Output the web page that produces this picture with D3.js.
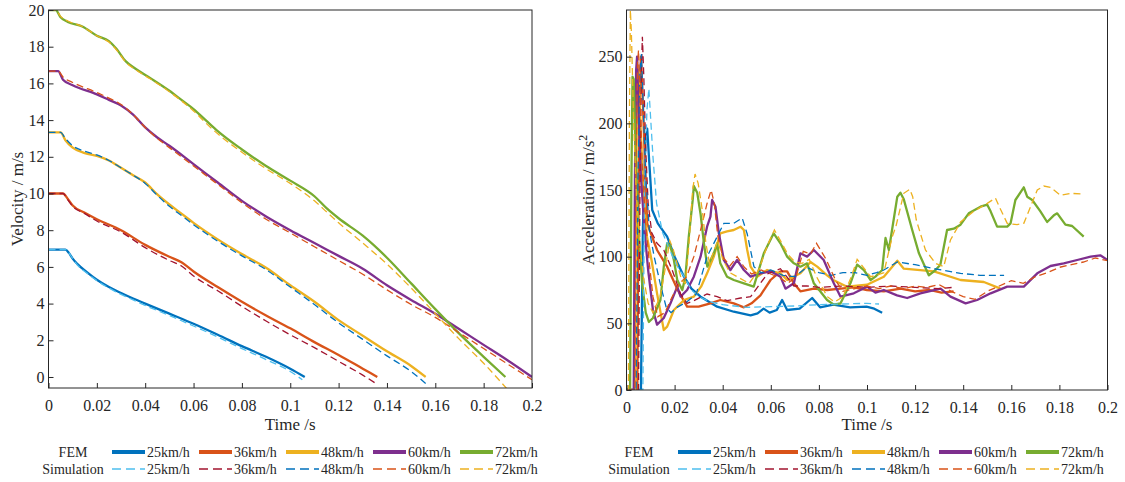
<!DOCTYPE html>
<html>
<head>
<meta charset="utf-8">
<script src="https://cdn.jsdelivr.net/npm/d3@7"></script>
<style>
    body { margin: 0; background: #fff; }
    text { font-family: "Liberation Serif", "Times New Roman", serif; fill: #262626; }
</style>
</head>
<body>
<svg id="fig" width="1125" height="482"></svg>
<script>
// Legend labels and tick values
const speeds = ["25km/h", "36km/h", "48km/h", "60km/h", "72km/h"];
const timeTicks = [0, 0.02, 0.04, 0.06, 0.08, 0.1, 0.12, 0.14, 0.16, 0.18, 0.2];
const velTicks = [0, 2, 4, 6, 8, 10, 12, 14, 16, 18, 20];
const accTicks = [0, 50, 100, 150, 200, 250];

// Velocity [t (s), v (m/s)] - FEM (solid) and Simulation (dashed)
const velFEM25 = [[0,6.94],[0.007,6.94],[0.0085,6.75],[0.01,6.45],[0.012,6.15],[0.016,5.7],[0.02,5.3],[0.025,4.9],[0.03,4.58],[0.035,4.28],[0.04,4.0],[0.05,3.45],[0.06,2.9],[0.07,2.3],[0.08,1.68],[0.09,1.1],[0.1,0.45],[0.106,0]];
const velSim25 = [[0,6.94],[0.0075,6.94],[0.009,6.65],[0.01,6.45],[0.012,6.1],[0.016,5.65],[0.02,5.25],[0.025,4.85],[0.03,4.5],[0.035,4.2],[0.04,3.9],[0.05,3.35],[0.06,2.78],[0.07,2.18],[0.08,1.55],[0.09,0.95],[0.1,0.3],[0.105,-0.15]];
const velFEM36 = [[0,10],[0.006,10],[0.008,9.7],[0.01,9.35],[0.015,8.95],[0.02,8.6],[0.03,8.0],[0.04,7.2],[0.05,6.55],[0.055,6.25],[0.06,5.75],[0.07,4.9],[0.08,4.1],[0.09,3.35],[0.1,2.65],[0.11,1.9],[0.12,1.2],[0.13,0.45],[0.136,0]];
const velSim36 = [[0,10],[0.006,10],[0.008,9.65],[0.01,9.3],[0.015,8.9],[0.02,8.5],[0.03,7.9],[0.04,7.05],[0.05,6.35],[0.055,6.05],[0.06,5.5],[0.07,4.7],[0.08,3.85],[0.09,3.05],[0.1,2.3],[0.11,1.6],[0.12,0.85],[0.13,0.1],[0.136,-0.4]];
const velFEM48 = [[0,13.33],[0.005,13.33],[0.007,12.9],[0.01,12.5],[0.015,12.2],[0.02,12.05],[0.025,11.8],[0.03,11.4],[0.035,11.0],[0.04,10.6],[0.045,9.95],[0.05,9.4],[0.055,8.9],[0.06,8.4],[0.07,7.5],[0.08,6.7],[0.09,5.95],[0.1,5.0],[0.11,4.1],[0.12,3.1],[0.13,2.25],[0.14,1.4],[0.15,0.6],[0.156,0]];
const velSim48 = [[0,13.33],[0.005,13.33],[0.007,13.0],[0.01,12.6],[0.015,12.3],[0.02,12.1],[0.025,11.8],[0.03,11.4],[0.035,11.0],[0.04,10.55],[0.045,9.9],[0.05,9.3],[0.055,8.8],[0.06,8.3],[0.07,7.4],[0.08,6.6],[0.09,5.85],[0.1,4.9],[0.11,3.95],[0.12,2.95],[0.13,2.05],[0.14,1.15],[0.15,0.3],[0.156,-0.35]];
const velFEM60 = [[0,16.67],[0.004,16.67],[0.006,16.2],[0.01,15.9],[0.02,15.4],[0.025,15.1],[0.03,14.8],[0.035,14.3],[0.04,13.6],[0.045,13.05],[0.05,12.6],[0.06,11.6],[0.07,10.6],[0.08,9.6],[0.09,8.75],[0.1,8.0],[0.11,7.3],[0.12,6.6],[0.13,5.9],[0.14,5.0],[0.15,4.2],[0.16,3.45],[0.17,2.6],[0.18,1.75],[0.19,0.9],[0.2,0]];
const velSim60 = [[0,16.67],[0.004,16.67],[0.006,16.35],[0.01,16.05],[0.02,15.5],[0.025,15.2],[0.03,14.85],[0.035,14.3],[0.04,13.6],[0.045,13.0],[0.05,12.5],[0.06,11.5],[0.07,10.5],[0.08,9.5],[0.09,8.6],[0.1,7.85],[0.11,7.1],[0.12,6.35],[0.13,5.6],[0.14,4.75],[0.15,3.95],[0.16,3.25],[0.17,2.4],[0.18,1.55],[0.19,0.7],[0.2,-0.15]];
const velFEM72 = [[0,20],[0.003,20],[0.005,19.6],[0.008,19.35],[0.014,19.1],[0.02,18.6],[0.025,18.3],[0.028,17.9],[0.032,17.2],[0.036,16.8],[0.042,16.3],[0.05,15.6],[0.055,15.1],[0.06,14.6],[0.065,14.0],[0.07,13.4],[0.08,12.4],[0.09,11.5],[0.1,10.7],[0.11,9.85],[0.115,9.2],[0.12,8.65],[0.13,7.7],[0.14,6.5],[0.15,5.1],[0.16,3.7],[0.17,2.35],[0.18,1.1],[0.189,0]];
const velSim72 = [[0,20],[0.003,20],[0.005,19.65],[0.008,19.4],[0.014,19.1],[0.02,18.6],[0.025,18.25],[0.028,17.85],[0.032,17.15],[0.036,16.75],[0.042,16.25],[0.05,15.55],[0.055,15.05],[0.06,14.5],[0.065,13.85],[0.07,13.25],[0.08,12.25],[0.09,11.35],[0.1,10.55],[0.11,9.6],[0.115,9.0],[0.12,8.4],[0.13,7.3],[0.14,6.15],[0.15,4.85],[0.16,3.45],[0.17,2.05],[0.18,0.75],[0.19,-0.7]];

// Acceleration [t (s), a (m/s^2)]
const accFEM25 = [[0,0],[0.006,0],[0.0068,120],[0.0078,185],[0.0086,196],[0.0095,170],[0.0107,135],[0.013,125],[0.0169,115],[0.02,100],[0.0239,85],[0.027,76],[0.0308,70],[0.0377,62.5],[0.0446,58.7],[0.0516,56],[0.0545,57.5],[0.057,61],[0.0595,58],[0.0625,60],[0.0647,67.5],[0.0668,60],[0.072,61],[0.0772,69],[0.0805,62],[0.086,64],[0.093,62],[0.0998,62.5],[0.103,61],[0.1063,58]];
const accSim25 = [[0,0],[0.0068,0],[0.0075,150],[0.0085,210],[0.0093,226],[0.01,205],[0.011,175],[0.0125,140],[0.015,118],[0.018,105],[0.021,93],[0.024,85],[0.027,75],[0.03,70],[0.035,66],[0.04,64],[0.05,62],[0.06,62.5],[0.07,63],[0.08,64],[0.09,64.5],[0.1,65],[0.105,64.5]];
const accFEM36 = [[0,0],[0.0045,0],[0.005,140],[0.0056,230],[0.006,250],[0.0068,215],[0.0078,165],[0.0086,125],[0.01,118],[0.0127,105],[0.0169,92.5],[0.0213,75],[0.0252,62.5],[0.03,62.5],[0.0349,65],[0.039,67.5],[0.0446,65],[0.0488,62],[0.052,65],[0.0557,71],[0.0599,82.5],[0.064,89],[0.0668,89],[0.0696,80],[0.0723,74],[0.0779,76],[0.0834,75],[0.089,76],[0.0945,77],[0.1,75],[0.107,74],[0.114,76],[0.12,74],[0.126,75],[0.131,73],[0.136,74]];
const accSim36 = [[0,0],[0.005,0],[0.0056,150],[0.0062,240],[0.0066,265],[0.0072,235],[0.008,180],[0.009,140],[0.0105,118],[0.0127,110],[0.0155,105],[0.019,90],[0.0225,72],[0.0252,65],[0.028,67],[0.0335,72],[0.0377,70],[0.0418,67],[0.0474,69],[0.0516,70],[0.0585,87],[0.064,91],[0.0696,78],[0.075,78],[0.08,77],[0.09,78],[0.1,77],[0.11,78],[0.12,77],[0.13,76],[0.136,77]];
const accFEM48 = [[0,0],[0.0035,0],[0.004,150],[0.0045,235],[0.005,240],[0.0058,200],[0.007,150],[0.0085,115],[0.0104,97.5],[0.0127,72.5],[0.0155,45],[0.0169,47.5],[0.0197,60],[0.0239,67.5],[0.028,70],[0.031,77.5],[0.0335,87.5],[0.0363,100],[0.039,117.5],[0.0418,119],[0.0446,120],[0.0474,122.5],[0.0488,120],[0.0502,105],[0.0516,92.5],[0.0543,85],[0.0585,90],[0.064,87.5],[0.0668,82.5],[0.0723,87.5],[0.0765,96],[0.0793,92.5],[0.0834,86],[0.086,82.5],[0.0917,77.5],[0.1,79],[0.107,85],[0.1126,97],[0.1153,91],[0.1278,89],[0.1389,82.5],[0.1486,81],[0.1555,76]];
const accSim48 = [[0,0],[0.004,0],[0.0048,160],[0.0056,240],[0.0062,252],[0.007,210],[0.008,160],[0.0095,120],[0.0115,100],[0.014,80],[0.0165,62],[0.0185,58],[0.021,62],[0.025,66],[0.029,72],[0.0335,100],[0.0363,110],[0.0405,125],[0.0446,125],[0.0481,129],[0.0502,117],[0.053,92.5],[0.056,88],[0.06,90],[0.065,86],[0.07,85],[0.075,92],[0.08,88],[0.085,86],[0.09,88],[0.095,88],[0.1,86],[0.104,88],[0.107,90],[0.1126,96],[0.12,94],[0.1278,91],[0.1389,87.5],[0.147,86],[0.157,86]];
const accFEM60 = [[0,0],[0.003,0],[0.0035,160],[0.004,240],[0.0044,250],[0.005,210],[0.006,160],[0.0075,120],[0.009,90],[0.011,60],[0.0127,49],[0.0155,54],[0.0183,65],[0.0211,77.5],[0.0225,70],[0.0252,75],[0.028,85],[0.0308,100],[0.0335,122.5],[0.0349,130],[0.0356,142.5],[0.037,137.5],[0.0384,117.5],[0.0405,97.5],[0.0432,90],[0.046,97.5],[0.0488,90],[0.0516,85],[0.0557,87.5],[0.0599,89],[0.064,85],[0.0661,76],[0.0696,80],[0.0723,102.5],[0.0751,100],[0.0779,105],[0.082,97.5],[0.0862,80],[0.089,70],[0.0945,72.5],[0.1,77.5],[0.1035,73],[0.107,75],[0.1125,71],[0.1167,69],[0.1222,72.5],[0.1306,76],[0.1347,70],[0.141,65],[0.1458,67.5],[0.1514,72.5],[0.1583,77.5],[0.1652,77.5],[0.1708,87.5],[0.1763,93],[0.1818,95],[0.1874,97.5],[0.193,100],[0.197,101],[0.2,97.5]];
const accSim60 = [[0,0],[0.0035,0],[0.004,170],[0.0046,245],[0.005,255],[0.0056,220],[0.0065,170],[0.008,125],[0.0095,95],[0.011,70],[0.013,55],[0.016,58],[0.019,70],[0.022,80],[0.025,85],[0.028,100],[0.0315,125],[0.0335,140],[0.0352,150],[0.0365,140],[0.038,115],[0.04,100],[0.043,93],[0.046,100],[0.049,92],[0.052,87],[0.056,90],[0.06,87],[0.064,84],[0.067,80],[0.0705,85],[0.0735,104],[0.0765,102],[0.079,110],[0.083,98],[0.087,82],[0.09,74],[0.095,76],[0.1,78],[0.105,76],[0.11,78],[0.115,76],[0.12,78],[0.125,77],[0.13,79],[0.135,74],[0.14,70],[0.145,68],[0.15,74],[0.155,78],[0.16,82],[0.165,80],[0.17,85],[0.175,88],[0.18,92],[0.185,94],[0.19,96],[0.195,99],[0.2,97]];
const accFEM72 = [[0,0],[0.0015,0],[0.002,150],[0.0025,235],[0.003,233],[0.0038,180],[0.005,120],[0.0065,80],[0.008,58],[0.0093,51],[0.011,54],[0.0141,67.5],[0.0155,92.5],[0.0169,110],[0.0183,107.5],[0.0197,97.5],[0.0211,82.5],[0.0232,75],[0.0245,85],[0.0259,115],[0.0275,142],[0.028,153],[0.0294,148],[0.0308,132],[0.0322,110],[0.0336,92.5],[0.0363,102.5],[0.0377,110],[0.039,95],[0.0418,85],[0.0446,82.5],[0.0488,80],[0.0529,77.5],[0.0571,102.5],[0.0612,117.5],[0.064,110],[0.0668,100],[0.0696,95],[0.0723,92.5],[0.0751,95],[0.0779,80],[0.0834,67.5],[0.0862,64],[0.089,65],[0.0931,80],[0.0959,94],[0.0987,90],[0.1015,82.5],[0.1035,85],[0.1063,90],[0.1077,114],[0.1091,105],[0.1126,145],[0.1139,148],[0.1153,143],[0.1188,120],[0.1216,102.5],[0.1257,86],[0.1285,90],[0.1305,94],[0.1333,120],[0.1361,121],[0.1389,124],[0.1423,132.5],[0.1472,137.5],[0.15,139],[0.1514,134],[0.1541,122.5],[0.1583,122.5],[0.1597,125],[0.1617,142.5],[0.1652,152],[0.1666,145],[0.1687,142.5],[0.1721,134],[0.1749,126],[0.1777,131],[0.1791,132.5],[0.1825,124],[0.1853,123],[0.1901,115]];
const accSim72 = [[0,0],[0.0008,0],[0.0012,200],[0.0016,285],[0.002,270],[0.003,200],[0.004,150],[0.0055,110],[0.007,85],[0.009,65],[0.011,58],[0.014,70],[0.0165,95],[0.018,112],[0.0195,105],[0.021,95],[0.023,82],[0.0245,80],[0.026,110],[0.0275,150],[0.0285,162],[0.0298,155],[0.0315,135],[0.033,110],[0.0345,95],[0.0365,105],[0.038,112],[0.04,98],[0.043,88],[0.047,84],[0.051,80],[0.055,90],[0.0585,108],[0.0615,120],[0.064,112],[0.067,102],[0.07,96],[0.073,95],[0.076,98],[0.079,85],[0.0835,70],[0.0865,66],[0.09,70],[0.0935,85],[0.0959,98],[0.0985,92],[0.1015,85],[0.104,86],[0.107,88],[0.1105,115],[0.112,122.5],[0.1153,147.5],[0.1178,150.5],[0.119,145],[0.1205,127.5],[0.1243,105],[0.1285,95],[0.1319,92.5],[0.1347,112.5],[0.1389,126],[0.1444,134],[0.15,140],[0.1534,144],[0.155,137.5],[0.1583,125],[0.1624,124],[0.1652,125],[0.168,137.5],[0.1708,150],[0.1735,153],[0.1763,152],[0.1805,146],[0.1846,147.5],[0.1901,147]];

// MATLAB default colour order
const femColors = ["#0072BD", "#D95319", "#EDB120", "#7E2F8E", "#77AC30"];
const simColors = ["#4DBEEE", "#A2142F", "#0072BD", "#D95319", "#EDB120"];
const axisColor = "#262626";

const svg = d3.select("#fig");

function drawPanel(p) {
    const x = d3.scaleLinear().domain([0, 0.2]).range([p.left, p.left + p.width]);
    const y = d3.scaleLinear().domain(p.yDomain).range([p.top + p.height, p.top]);

    const clipId = "clip-" + p.name;
    svg.append("clipPath").attr("id", clipId)
        .append("rect")
        .attr("x", p.left).attr("y", p.top)
        .attr("width", p.width).attr("height", p.height);

    const line = d3.line()
        .x(d => x(d[0]))
        .y(d => y(d[1]))
        .curve(p.curve);

    const plot = svg.append("g").attr("clip-path", `url(#${clipId})`);

    // solid FEM lines first, dashed simulation on top
    p.fem.forEach((series, i) => {
        plot.append("path").datum(series)
            .attr("d", line)
            .attr("fill", "none")
            .attr("stroke", femColors[i])
            .attr("stroke-width", 2.3)
            .attr("stroke-linejoin", "round");
    });
    p.sim.forEach((series, i) => {
        plot.append("path").datum(series)
            .attr("d", line)
            .attr("fill", "none")
            .attr("stroke", simColors[i])
            .attr("stroke-width", 1.3)
            .attr("stroke-dasharray", "7,4");
    });

    // Axes - ticks point inward
    const xAxis = d3.axisBottom(x).tickValues(timeTicks).tickFormat(d3.format("~g"))
        .tickSizeInner(-5).tickSizeOuter(0).tickPadding(12);
    const yAxis = d3.axisLeft(y).tickValues(p.yTicks).tickFormat(d3.format("~g"))
        .tickSizeInner(-5).tickSizeOuter(0).tickPadding(4);

    const gx = svg.append("g")
        .attr("transform", `translate(0, ${p.top + p.height})`)
        .call(xAxis);
    const gy = svg.append("g")
        .attr("transform", `translate(${p.left}, 0)`)
        .call(yAxis);

    [gx, gy].forEach(g => {
        g.select(".domain").remove();
        g.selectAll(".tick line").attr("stroke", axisColor);
        g.selectAll(".tick text")
            .attr("fill", axisColor)
            .style("font-family", '"Liberation Serif", serif')
            .style("font-size", "16px");
    });

    // box
    svg.append("rect")
        .attr("x", p.left).attr("y", p.top)
        .attr("width", p.width).attr("height", p.height)
        .attr("fill", "none")
        .attr("stroke", axisColor)
        .attr("stroke-width", 1);

    // Axis labels
    svg.append("text")
        .attr("x", p.left + p.width / 2)
        .attr("y", 430)
        .attr("text-anchor", "middle")
        .style("font-size", "17px")
        .text("Time /s");

    const yl = svg.append("text")
        .attr("transform", `translate(${p.yLabelX}, ${p.top + p.height / 2}) rotate(-90)`)
        .attr("text-anchor", "middle")
        .style("font-size", "17px");
    yl.append("tspan").text(p.yLabel);
    if (p.yLabelSup) {
        yl.append("tspan").attr("dy", -7).style("font-size", "12px").text(p.yLabelSup);
    }

    drawLegend(p.legendX);
}

function drawLegend(x0) {
    const rows = [
        { name: "FEM", colors: femColors, width: 4, dash: null, y: 452 },
        { name: "Simulation", colors: simColors, width: 1.3, dash: "9,5", y: 469 }
    ];
    rows.forEach(r => {
        svg.append("text")
            .attr("x", x0 + 73).attr("y", r.y + 5)
            .attr("text-anchor", "middle")
            .style("font-size", "14px")
            .text(r.name);
        speeds.forEach((s, i) => {
            const lx = x0 + 112 + i * 87;
            svg.append("line")
                .attr("x1", lx).attr("x2", lx + 33)
                .attr("y1", r.y).attr("y2", r.y)
                .attr("stroke", r.colors[i])
                .attr("stroke-width", r.width)
                .attr("stroke-dasharray", r.dash);
            svg.append("text")
                .attr("x", lx + 35).attr("y", r.y + 5)
                .style("font-size", "14px")
                .text(s);
        });
    });
}

drawPanel({
    name: "vel",
    left: 48.5, top: 10, width: 483.5, height: 378,
    yDomain: [-0.6, 20], yTicks: velTicks,
    fem: [velFEM25, velFEM36, velFEM48, velFEM60, velFEM72],
    sim: [velSim25, velSim36, velSim48, velSim60, velSim72],
    curve: d3.curveMonotoneX,
    yLabel: "Velocity / m/s", yLabelX: 23,
    legendX: 0
});

drawPanel({
    name: "acc",
    left: 626.5, top: 10, width: 481, height: 380,
    yDomain: [0, 285], yTicks: accTicks,
    fem: [accFEM25, accFEM36, accFEM48, accFEM60, accFEM72],
    sim: [accSim25, accSim36, accSim48, accSim60, accSim72],
    curve: d3.curveLinear,
    yLabel: "Acceleration / m/s", yLabelSup: "2", yLabelX: 594,
    legendX: 566
});
</script>
</body>
</html>
